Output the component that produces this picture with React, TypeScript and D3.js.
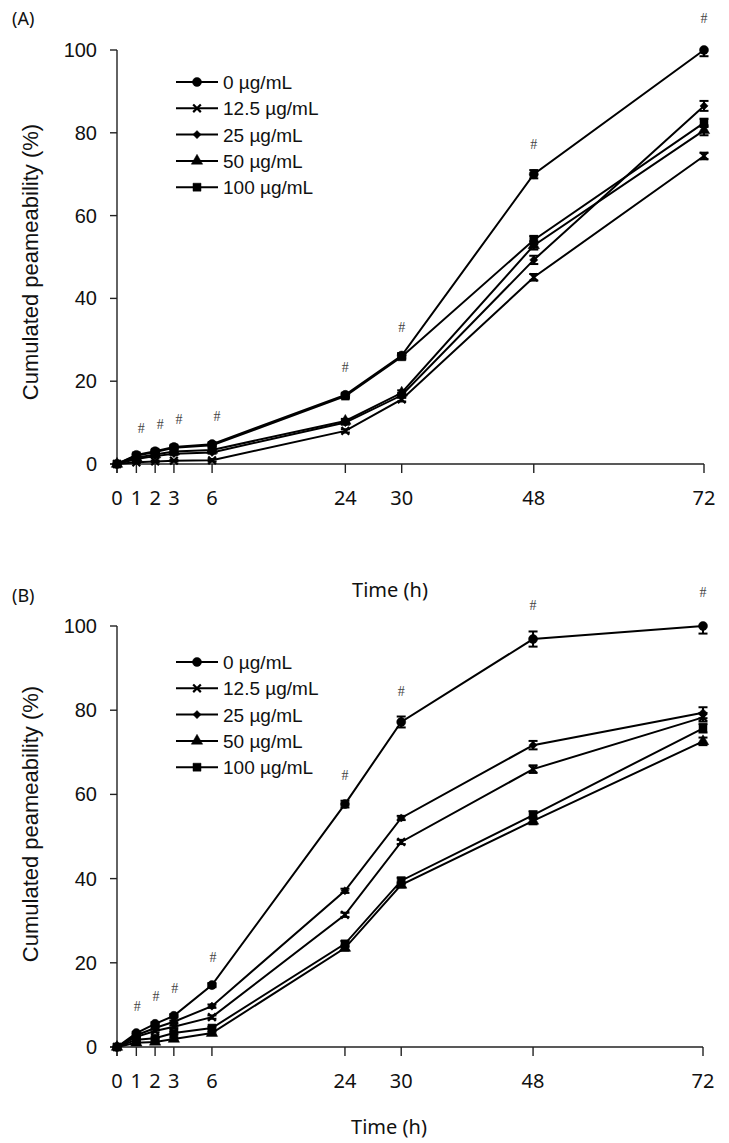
import React from "react";
import * as d3 from "d3";

// ---- Data ----
const times = [0, 1, 2, 3, 6, 24, 30, 48, 72];
// irregular category-like axis of the original: relative position of each time tick along the axis
const tickFrac = [0, 0.033, 0.065, 0.097, 0.162, 0.389, 0.485, 0.71, 1];
const yTicks = [0, 20, 40, 60, 80, 100];
const seriesNames = ["0 µg/mL", "12.5 µg/mL", "25 µg/mL", "50 µg/mL", "100 µg/mL"];
const markerKinds = ["circle", "x", "diamond", "triangle", "square"];

// Panel A
const a0 = [0, 2.2, 3.1, 4.1, 4.8, 16.7, 26.2, 70.0, 100.0];
const a125 = [0, 0.4, 0.6, 0.8, 0.9, 8.0, 15.6, 45.1, 74.4];
const a25 = [0, 1.2, 1.9, 2.5, 2.8, 10.0, 16.6, 49.3, 86.5];
const a50 = [0, 1.5, 2.3, 3.0, 3.4, 10.4, 17.2, 52.8, 80.6];
const a100 = [0, 2.0, 2.9, 3.9, 4.5, 16.4, 25.9, 54.1, 82.4];
const aErr0 = [0, 0.3, 0.3, 0.4, 0.4, 0.5, 0.6, 1.0, 1.5];
const aErr125 = [0, 0.2, 0.2, 0.2, 0.3, 0.4, 0.5, 0.8, 0.8];
const aErr25 = [0, 0.2, 0.2, 0.3, 0.3, 0.5, 0.6, 1.0, 1.2];
const aErr50 = [0, 0.2, 0.3, 0.3, 0.3, 0.5, 0.6, 1.0, 1.2];
const aErr100 = [0, 0.3, 0.3, 0.3, 0.4, 0.5, 0.6, 1.0, 1.0];
const aHashTimes = [1, 2, 3, 6, 24, 30, 48, 72];

// Panel B
const b0 = [0, 3.3, 5.5, 7.4, 14.7, 57.7, 77.2, 96.9, 100.0];
const b125 = [0, 2.4, 3.8, 4.8, 7.1, 31.4, 48.7, 66.0, 78.3];
const b25 = [0, 2.8, 4.5, 6.0, 9.7, 37.1, 54.4, 71.7, 79.4];
const b50 = [0, 1.0, 1.2, 1.9, 3.3, 23.5, 38.5, 53.7, 72.6];
const b100 = [0, 1.7, 2.1, 3.3, 4.5, 24.5, 39.5, 55.1, 75.7];
const bErr0 = [0, 0.3, 0.4, 0.4, 0.5, 0.8, 1.3, 1.8, 1.8];
const bErr125 = [0, 0.2, 0.3, 0.3, 0.4, 0.5, 0.5, 0.9, 1.0];
const bErr25 = [0, 0.2, 0.3, 0.3, 0.4, 0.5, 0.5, 1.0, 1.3];
const bErr50 = [0, 0.2, 0.2, 0.3, 0.3, 0.6, 0.6, 0.8, 0.9];
const bErr100 = [0, 0.2, 0.2, 0.3, 0.3, 0.7, 0.7, 0.9, 1.0];
const bHashTimes = [1, 2, 3, 6, 24, 30, 48, 72];

const SANS = "Arial, 'Liberation Sans', sans-serif";
const GOTHIC = "'Noto Sans', 'DejaVu Sans', sans-serif";

function markerPath(kind: string): string {
  const sym = d3.symbol();
  switch (kind) {
    case "circle":
      return sym.type(d3.symbolCircle).size(64)() as string;
    case "x":
      return sym.type((d3 as any).symbolX || (d3 as any).symbolTimes || d3.symbolCross).size(40)() as string;
    case "diamond":
      return sym.type((d3 as any).symbolDiamond2 || d3.symbolDiamond).size(42)() as string;
    case "triangle":
      return sym.type(d3.symbolTriangle).size(56)() as string;
    default:
      return sym.type(d3.symbolSquare).size(64)() as string;
  }
}

function Marker({ kind, x, y }: { kind: string; x: number; y: number }) {
  const isStroke = kind === "x";
  return (
    <path
      d={markerPath(kind)}
      transform={`translate(${x},${y})`}
      fill={isStroke ? "none" : "#000"}
      stroke="#000"
      strokeWidth={isStroke ? 2.2 : 0.5}
    />
  );
}

type PanelProps = {
  label: string;
  labelY: number;
  yTop: number;
  yBottom: number;
  xLeft: number;
  xRight: number;
  series: number[][];
  errors: number[][];
  hashTimes: number[];
  legendY: number;
  yLabelCenter: number;
  xLabelX: number;
  xLabelY: number;
  hashDx: number;
};

function Panel(p: PanelProps) {
  const x = d3
    .scaleLinear()
    .domain(times)
    .range(tickFrac.map((f) => p.xLeft + f * (p.xRight - p.xLeft)));
  const y = d3.scaleLinear().domain([0, 100]).range([p.yBottom, p.yTop]);
  const line = d3
    .line<number>()
    .x((_, i) => x(times[i]))
    .y((v) => y(v));

  const legendRows = seriesNames.map((n, i) => ({ n, i, cy: p.legendY + i * 26.3 }));

  return (
    <g>
      <text x={12} y={p.labelY} fontFamily={GOTHIC} fontSize={18} fill="#111">
        {p.label}
      </text>
      {/* y axis */}
      <line x1={p.xLeft} x2={p.xLeft} y1={y(100)} y2={y(0) + 9} stroke="#222" strokeWidth={1.4} />
      {yTicks.map((t) => (
        <g key={t}>
          <line x1={p.xLeft - 7} x2={p.xLeft} y1={y(t)} y2={y(t)} stroke="#222" strokeWidth={1.4} />
          <text
            x={p.xLeft - 20}
            y={y(t) + 7}
            textAnchor="end"
            fontFamily={SANS}
            fontSize={20}
            fill="#111"
          >
            {t}
          </text>
        </g>
      ))}
      <text
        transform={`translate(30,${p.yLabelCenter}) rotate(-90)`}
        textAnchor="middle"
        dominantBaseline="central"
        fontFamily={SANS}
        fontSize={22}
        fill="#111"
      >
        Cumulated peameability (%)
      </text>
      {/* x axis */}
      <line x1={p.xLeft - 7} x2={p.xRight} y1={y(0)} y2={y(0)} stroke="#222" strokeWidth={1.4} />
      {times.map((t) => (
        <g key={t}>
          <line x1={x(t)} x2={x(t)} y1={y(0)} y2={y(0) + 9} stroke="#222" strokeWidth={1.4} />
          <text
            x={x(t)}
            y={y(0) + 41}
            textAnchor="middle"
            fontFamily={GOTHIC}
            fontSize={20}
            fill="#111"
          >
            {t}
          </text>
        </g>
      ))}
      <text x={p.xLabelX} y={p.xLabelY} textAnchor="middle" fontFamily={GOTHIC} fontSize={20} fill="#111">
        Time (h)
      </text>
      {/* series lines */}
      {p.series.map((s, si) => (
        <path key={si} d={line(s) as string} fill="none" stroke="#000" strokeWidth={2} />
      ))}
      {/* error bars */}
      {p.series.map((s, si) =>
        s.map((v, i) => {
          const e = p.errors[si][i];
          if (!e) return null;
          const top = Math.min(100, v + e);
          const bot = v - e;
          const cx = x(times[i]);
          return (
            <g key={`e${si}-${i}`} stroke="#000" strokeWidth={2}>
              <line x1={cx} x2={cx} y1={y(top)} y2={y(bot)} />
              {top > v && <line x1={cx - 4.5} x2={cx + 4.5} y1={y(top)} y2={y(top)} />}
              <line x1={cx - 4.5} x2={cx + 4.5} y1={y(bot)} y2={y(bot)} />
            </g>
          );
        })
      )}
      {/* markers */}
      {p.series.map((s, si) =>
        s.map((v, i) => <Marker key={`m${si}-${i}`} kind={markerKinds[si]} x={x(times[i])} y={y(v)} />)
      )}
      {/* significance marks */}
      {p.hashTimes.map((t) => {
        const idx = times.indexOf(t);
        const top = d3.max(p.series, (s, si) => s[idx] + p.errors[si][idx]) as number;
        return (
          <text
            key={`h${t}`}
            x={x(t) + (t < 24 ? p.hashDx : 0)}
            y={y(top) - 21}
            textAnchor="middle"
            fontFamily="'Liberation Serif', 'DejaVu Serif', serif"
            fontSize={14}
            fill="#444"
          >
            #
          </text>
        );
      })}
      {/* legend */}
      {legendRows.map((r) => (
        <g key={r.n}>
          <line x1={176} x2={218} y1={r.cy} y2={r.cy} stroke="#000" strokeWidth={2} />
          <Marker kind={markerKinds[r.i]} x={197} y={r.cy} />
          <text x={223} y={r.cy + 7} fontFamily={SANS} fontSize={19} fill="#111">
            {r.n}
          </text>
        </g>
      ))}
    </g>
  );
}

export default function App() {
  return (
    <div style={{ position: "absolute", left: 0, top: 0 }}>
      <svg width={729} height={1143} viewBox="0 0 729 1143" style={{ display: "block", background: "#fff" }}>
        <rect width={729} height={1143} fill="#fff" />
        <Panel
          label="(A)"
          labelY={25}
          yTop={50}
          yBottom={464}
          xLeft={117}
          xRight={704}
          series={[a0, a125, a25, a50, a100]}
          errors={[aErr0, aErr125, aErr25, aErr50, aErr100]}
          hashTimes={aHashTimes}
          legendY={82}
          yLabelCenter={262}
          xLabelX={390}
          xLabelY={597}
          hashDx={5}
        />
        <Panel
          label="(B)"
          labelY={602}
          yTop={626}
          yBottom={1047}
          xLeft={117}
          xRight={703}
          series={[b0, b125, b25, b50, b100]}
          errors={[bErr0, bErr125, bErr25, bErr50, bErr100]}
          hashTimes={bHashTimes}
          legendY={662}
          yLabelCenter={824}
          xLabelX={389}
          xLabelY={1134}
          hashDx={1}
        />
      </svg>
    </div>
  );
}
